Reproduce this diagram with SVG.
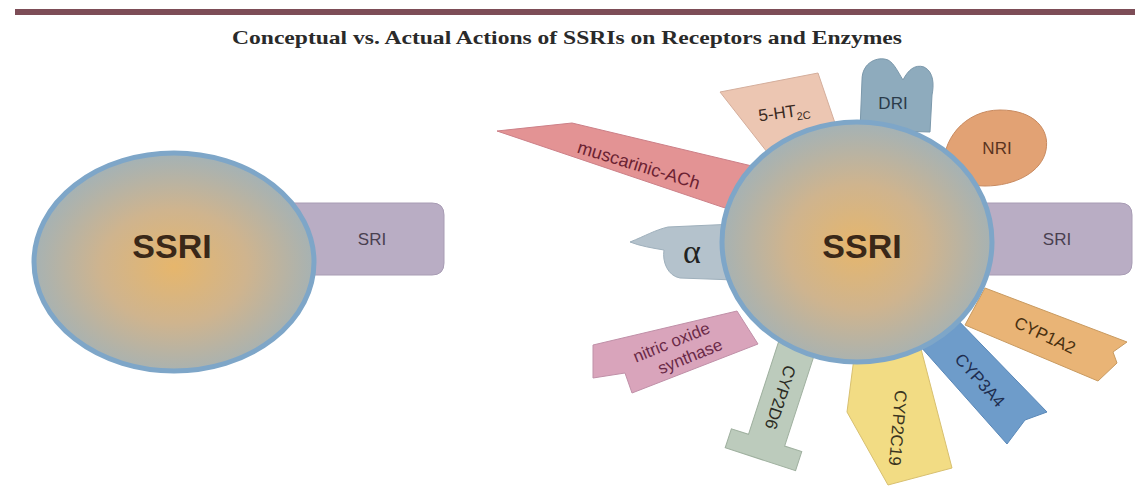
<svg xmlns="http://www.w3.org/2000/svg" width="1135" height="497" viewBox="0 0 1135 497">
<defs>
<radialGradient id="ball" cx="50%" cy="52%" r="52%">
<stop offset="0" stop-color="#e6b66c"/>
<stop offset="0.5" stop-color="#cfb48e"/>
<stop offset="1" stop-color="#a3b2b6"/>
</radialGradient>
<style>
text{font-family:"Liberation Sans",Arial,sans-serif;text-anchor:middle}
.ssri{font-size:34px;font-weight:bold;fill:#3a2818}
.lbl{font-size:17px}
.ball{fill:url(#ball);stroke:#7ea6c8;stroke-width:5}
.sri{fill:#b9adc4;stroke:#a89cb4;stroke-width:1}
</style>
</defs>
<rect width="1135" height="497" fill="#ffffff"/>
<rect x="15" y="9" width="1120" height="6" fill="#7d4d57"/>
<text x="567" y="44" style="font-family:'Liberation Serif','Times New Roman',serif;font-size:19px;font-weight:bold;fill:#2a2a2a" textLength="670" lengthAdjust="spacingAndGlyphs">Conceptual vs. Actual Actions of SSRIs on Receptors and Enzymes</text>

<g id="connectors"/>

<!-- Left (conceptual) -->
<g id="sri-left">
<path class="sri" d="M290,203 H432 Q444,203 444,215 V263 Q444,275 432,275 H290 Z"/>
<text class="lbl" x="372" y="245" style="fill:#4a4050">SRI</text>
</g>
<g id="ssri-left">
<ellipse class="ball" cx="174" cy="262" rx="140" ry="109"/>
<text class="ssri" x="172" y="258">SSRI</text>
</g>

<!-- Right (actual) petals -->
<g id="muscarinic">
<polygon points="497,131 572,123 752,166 742,212 722,207" fill="#e39394" stroke="#cc8088" stroke-width="1"/>
<text class="lbl" transform="translate(637,171) rotate(17)" style="font-size:18px;fill:#6b2232">muscarinic-ACh</text>
</g>
<g id="ht2c">
<polygon points="720,92 818,73 836,126 767,152" fill="#ecc6b2" stroke="#d4ae9c" stroke-width="1"/>
<text class="lbl" transform="translate(785,118) rotate(-8)" style="fill:#3a2a22">5-HT<tspan style="font-size:11px" dy="4">2C</tspan></text>
</g>
<g id="dri">
<path d="M860,130 L862,80 C862,62 878,56 888,60 C894,63 898,72 903,80 C908,70 915,64 924,67 C934,72 934,85 932,95 L930,132 Z" fill="#8eabbd" stroke="#7b98ab" stroke-width="1"/>
<text class="lbl" x="893" y="109" style="fill:#2b3b4a">DRI</text>
</g>
<g id="nri">
<path d="M944,172 C940,140 965,110 1000,110 C1035,110 1050,130 1046,150 C1042,172 1015,186 985,186 C965,186 950,180 944,172 Z" fill="#e2a274" stroke="#c88a60" stroke-width="1"/>
<text class="lbl" x="997" y="154" style="fill:#5a3420">NRI</text>
</g>
<g id="alpha">
<path d="M630,242 C645,236 655,230 668,227 L735,224 L735,280 L680,278 C668,276 662,262 664,250 C652,248 640,246 630,242 Z" fill="#b4c2cc" stroke="#9fb0bc" stroke-width="1"/>
<text x="692" y="263" style="font-family:'Liberation Serif','Times New Roman',serif;font-size:34px;fill:#222">α</text>
</g>
<g id="sri-right">
<path class="sri" d="M975,203 H1120 Q1132,203 1132,215 V263 Q1132,275 1120,275 H975 Z"/>
<text class="lbl" x="1057" y="245" style="fill:#4a4050">SRI</text>
</g>
<g id="nos">
<polygon points="593,345 737,311 758,344 632,393 625,373 593,378" fill="#d9a4bb" stroke="#c090a8" stroke-width="1"/>
<g transform="translate(681,350) rotate(-22)" style="font-size:17px;fill:#6b2a48">
<text x="-6" y="-5">nitric oxide</text>
<text x="6" y="15">synthase</text>
</g>
</g>
<g id="cyp2d6">
<g transform="translate(778,405) rotate(18)">
<path d="M-19,-60 H19 V37 H37 V57 H-37 V37 H-19 Z" fill="#bccbbc" stroke="#9fb09f" stroke-width="1"/>
<text class="lbl" transform="translate(0,-8) rotate(90)" y="6" style="fill:#2a2a22">CYP2D6</text>
</g>
</g>
<g id="cyp2c19">
<polygon points="855,350 920,345 952,468 888,485 847,412" fill="#f2dc84" stroke="#d8c070" stroke-width="1"/>
<text class="lbl" transform="translate(898,428) rotate(95)" y="6" style="fill:#3a3420">CYP2C19</text>
</g>
<g id="cyp3a4">
<polygon points="950,312 1047,412 1025,420 1007,444 920,346" fill="#6e9cca" stroke="#5a88b8" stroke-width="1"/>
<text class="lbl" transform="translate(980,380) rotate(48)" y="6" style="fill:#1e2e50">CYP3A4</text>
</g>
<g id="cyp1a2">
<polygon points="985,288 1127,342 1113,352 1117,363 1098,381 965,325" fill="#e9b476" stroke="#c89a60" stroke-width="1"/>
<text class="lbl" transform="translate(1045,335) rotate(25)" y="6" style="fill:#4a3010">CYP1A2</text>
</g>
<g id="ssri-right">
<ellipse class="ball" cx="857" cy="242" rx="135" ry="120"/>
<text class="ssri" x="862" y="258">SSRI</text>
</g>
</svg>
